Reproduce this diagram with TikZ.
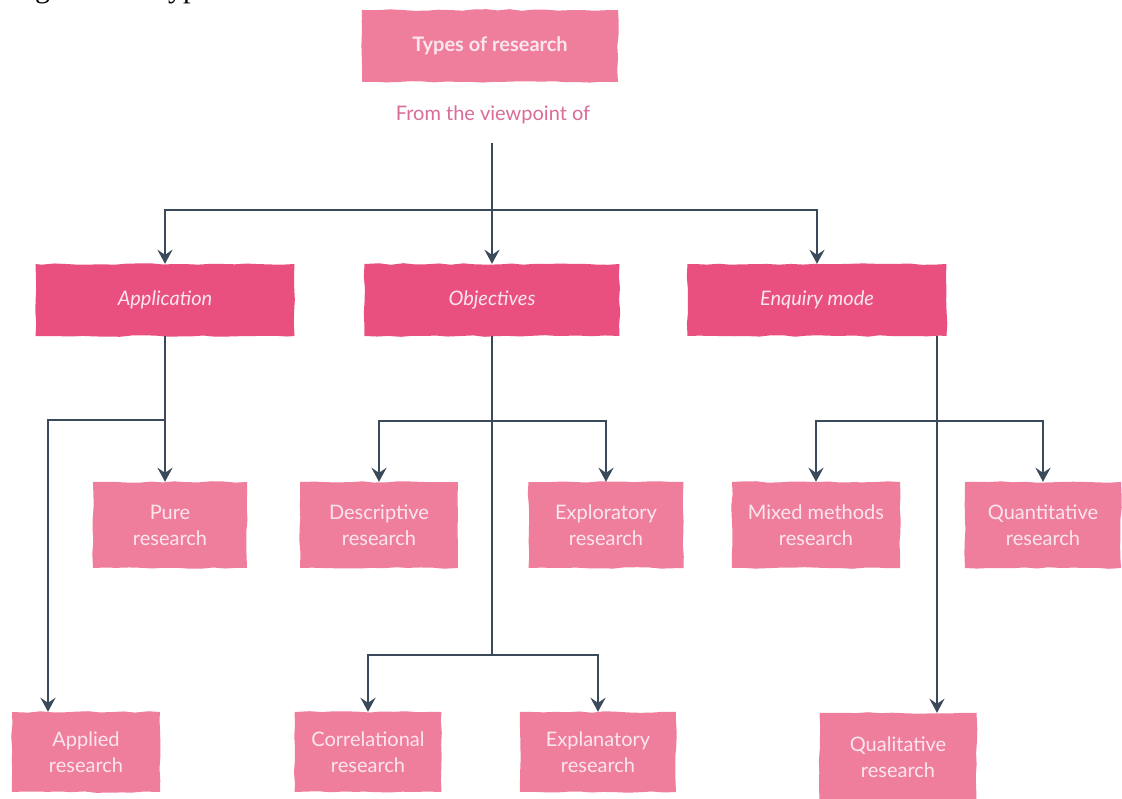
\documentclass[tikz,border=0pt]{standalone}
\usepackage{fontspec}
\setmainfont{Lato}
\newfontfamily\capfont{Liberation Serif}
\usetikzlibrary{arrows.meta,decorations.pathmorphing,calc}
\definecolor{lightpink}{HTML}{EF7E9D}
\definecolor{deeppink}{HTML}{E9507F}
\definecolor{boxtext}{HTML}{FCE6EE}
\definecolor{viewtext}{HTML}{DA6C99}
\definecolor{linecol}{HTML}{3B4A5B}
\pgfmathsetseed{7}
\tikzset{
  rbox/.style={fill=lightpink, text=boxtext, align=center, inner sep=0pt,
    font=\fontsize{20}{26}\selectfont,
    decorate, decoration={random steps, segment length=12pt, amplitude=0.8pt}},
  headbox/.style={rbox, fill=deeppink, font=\fontsize{20}{26}\selectfont\itshape,
    minimum height=72pt},
  subbox/.style={rbox, minimum height=86pt},
  lowbox/.style={rbox, minimum height=80pt},
  conn/.style={draw=linecol, line width=2.6pt},
  arr/.style={conn, -{Stealth[length=14pt,width=15pt,inset=5pt]}},
}
\begin{document}
\begin{tikzpicture}[x=1pt,y=-1pt]
\useasboundingbox (0,0) rectangle (1122,799);
\fill[white] (0,0) rectangle (1122,799);
\begin{scope}
\clip (0,0) rectangle (1122,799);
% cut-off caption above the picture (only its descenders show)
\node[anchor=base west, inner sep=0pt, font=\capfont\fontsize{30}{30}\selectfont] (cap) at (10,-2) {Figure 3.1: Types of research};

% top
\node[rbox, minimum width=256pt, minimum height=72pt, font=\fontsize{20}{26}\selectfont\bfseries] (top) at (490,46) {Types of research};
\node[text=viewtext, font=\fontsize{20}{24}\selectfont, inner sep=0pt] (view) at (493,115) {From the viewpoint of};
\coordinate (trunk) at (492,143);
\coordinate (j0) at (492,210);

% level 2
\node[headbox, minimum width=259pt] (app) at (165,300) {Application};
\node[headbox, minimum width=255pt] (obj) at (492,300) {Objectives};
\node[headbox, minimum width=259pt] (enq) at (817,300) {Enquiry mode};

% level 3
\node[subbox, minimum width=154pt] (pure) at (170,525) {Pure\\research};
\node[subbox, minimum width=158pt] (desc) at (379,525) {Descriptive\\research};
\node[subbox, minimum width=155pt] (expl) at (606,525) {Exploratory\\research};
\node[subbox, minimum width=168pt] (mix) at (816,525) {Mixed methods\\research};
\node[subbox, minimum width=156pt] (quant) at (1043,525) {Quantitative\\research};

% level 4
\node[lowbox, minimum width=148pt] (applied) at (86,752) {Applied\\research};
\node[lowbox, minimum width=147pt] (corr) at (368,752) {Correlational\\research};
\node[lowbox, minimum width=156pt] (expn) at (598,752) {Explanatory\\research};
\node[lowbox, minimum width=157pt, minimum height=88pt] (qual) at (898,757) {Qualitative\\research};

% connectors from top
\draw[arr] (trunk) -- (obj.north);
\draw[arr] (j0) -| (app.north);
\draw[arr] (j0) -| (enq.north);

% application
\coordinate (aL) at (48,420);
\draw[arr] (app.south) -- (app.south |- pure.north);
\draw[arr] (app.south |- aL) -- (aL) -- (aL |- applied.north);

% objectives
\coordinate (oJ) at (492,421);
\coordinate (oB) at (492,655);
\draw[conn] (obj.south) -- (oB);
\draw[arr] (oJ) -| (desc.north);
\draw[arr] (oJ) -| (expl.north);
\draw[arr] (oB) -| (corr.north);
\draw[arr] (oB) -| (expn.north);

% enquiry mode
\coordinate (eV) at (937,336);
\coordinate (eJ) at (937,421);
\draw[arr] (eV) -- (eV |- qual.north);
\draw[arr] (eJ) -| (mix.north);
\draw[arr] (eJ) -| (quant.north);
\end{scope}
\end{tikzpicture}
\end{document}
